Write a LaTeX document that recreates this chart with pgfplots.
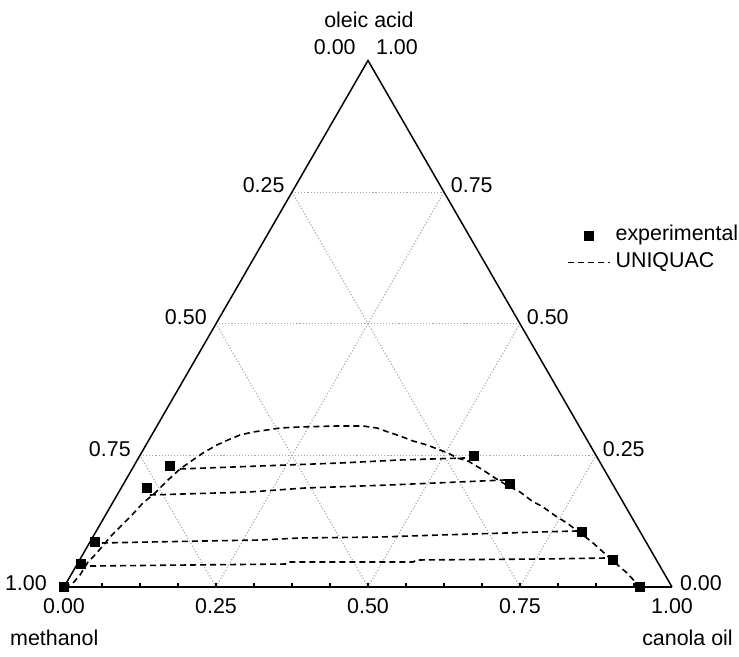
\documentclass[border=0pt]{standalone}
\usepackage{fontspec}
\setmainfont{Liberation Sans}
\usepackage{pgfplots}
\pgfplotsset{compat=1.18}
\begin{document}
\begin{tikzpicture}
\begin{axis}[
  scale only axis, width=739bp, height=657bp,
  xmin=-0.10526, xmax=1.11020, ymin=-0.11513, ymax=0.96546,
  hide axis, clip=false,
  font=\fontsize{21.5}{25}\selectfont,
  legend style={draw=none, fill=none, at={(axis cs:0.8273,0.5938)}, anchor=north west,
    inner sep=0pt, outer sep=0pt, row sep=8bp, column sep=5bp,
    nodes={inner sep=0pt, text height=15bp, text depth=4bp},
    font=\fontsize{21.5}{25}\selectfont},
  legend cell align=left,
  legend image code/.code={\draw[mark repeat=2,mark phase=2,#1] plot coordinates {(0bp,0bp) (21bp,0bp) (42bp,0bp)};},
  grid line/.style={gray!70, dotted, line width=1.1bp, forget plot},
  dashed line/.style={black, dash pattern=on 6bp off 4bp, line width=1.6bp},
]
\path (rel axis cs:0,0) rectangle (rel axis cs:1,1);
% grid lines: constant oleic acid
\addplot[grid line] coordinates {(0.125,0.2165) (0.875,0.2165)};
\addplot[grid line] coordinates {(0.25,0.4330) (0.75,0.4330)};
\addplot[grid line] coordinates {(0.375,0.6495) (0.625,0.6495)};
% constant canola oil
\addplot[grid line] coordinates {(0.25,0) (0.625,0.6495)};
\addplot[grid line] coordinates {(0.5,0) (0.75,0.4330)};
\addplot[grid line] coordinates {(0.75,0) (0.875,0.2165)};
% constant methanol
\addplot[grid line] coordinates {(0.75,0) (0.375,0.6495)};
\addplot[grid line] coordinates {(0.5,0) (0.25,0.4330)};
\addplot[grid line] coordinates {(0.25,0) (0.125,0.2165)};
% triangle
\addplot[black, line width=1.5bp, forget plot] coordinates {(0,0) (0.5,0.8660) (1,0)};
\addplot[black, line width=2.4bp, forget plot] coordinates {(0,0) (1,0)};
% bottom minor ticks
\addplot[ycomb, black, line width=1.1bp, mark=none, forget plot] coordinates {
(0.0625,0.0072) (0.125,0.0072) (0.1875,0.0072) (0.25,0.0072) (0.3125,0.0072)
(0.375,0.0072) (0.4375,0.0072) (0.5,0.0072) (0.5625,0.0072) (0.625,0.0072)
(0.6875,0.0072) (0.75,0.0072) (0.8125,0.0072) (0.875,0.0072) (0.9375,0.0072)};
% experimental
\addplot[only marks, mark=square*, mark size=4.6bp, black] coordinates {
(0,0) (0.0280,0.0378) (0.0510,0.0740) (0.1365,0.1628) (0.1743,0.1990)
(0.6743,0.2155) (0.7336,0.1694) (0.8520,0.0905) (0.9030,0.0444) (0.9474,0)};
\addlegendentry{experimental}
% UNIQUAC binodal
\addplot[dashed line] coordinates {
(0,0) (0.0148,0.0066) (0.0263,0.0197) (0.0395,0.0411) (0.0477,0.0493)
(0.0625,0.0658) (0.0757,0.0822) (0.0921,0.0987) (0.1118,0.1184) (0.1299,0.1382)
(0.1497,0.1546) (0.1711,0.1760) (0.1908,0.1941) (0.2072,0.2056) (0.2286,0.2204)
(0.2516,0.2336) (0.2697,0.2418) (0.2895,0.2500) (0.3109,0.2549) (0.3339,0.2582)
(0.3553,0.2615) (0.3882,0.2632) (0.4490,0.2648) (0.4918,0.2648) (0.5148,0.2615)
(0.5329,0.2549) (0.5526,0.2484) (0.5740,0.2401) (0.5970,0.2336) (0.6184,0.2253)
(0.6316,0.2204) (0.6464,0.2122) (0.6645,0.2072) (0.6891,0.1924) (0.7089,0.1793)
(0.7303,0.1661) (0.7500,0.1563) (0.7697,0.1414) (0.7878,0.1316) (0.8109,0.1151)
(0.8273,0.1053) (0.8487,0.0888) (0.8684,0.0740) (0.8865,0.0576) (0.9030,0.0428)
(0.9260,0.0230) (0.9474,0)};
\addlegendentry{UNIQUAC}
% tie lines
\addplot[dashed line, forget plot] coordinates {(0.1908,0.1941) (0.4539,0.2039) (0.5526,0.2089) (0.6595,0.2122)};
\addplot[dashed line, forget plot] coordinates {(0.1414,0.1513) (0.3059,0.1563) (0.3964,0.1628) (0.5362,0.1678) (0.7253,0.1760)};
\addplot[dashed line, forget plot] coordinates {(0.0625,0.0724) (0.1414,0.0740) (0.3224,0.0773) (0.3882,0.0806) (0.5197,0.0822) (0.6184,0.0855) (0.7829,0.0905) (0.8438,0.0921)};
\addplot[dashed line, forget plot] coordinates {(0.0428,0.0345) (0.3668,0.0378) (0.3717,0.0411) (0.5740,0.0411) (0.5806,0.0444) (0.7911,0.0461) (0.8931,0.0477)};
% labels
\begin{scope}[every node/.style={inner sep=0pt}]
\node at (axis cs:0.5016,0.9326) {oleic acid};
\node[anchor=east] at (axis cs:0.480,0.888) {0.00};
\node[anchor=west] at (axis cs:0.513,0.888) {1.00};
% left side (methanol)
\node[anchor=east] at (axis cs:0.363,0.6605) {0.25};
\node[anchor=east] at (axis cs:0.235,0.4440) {0.50};
\node[anchor=east] at (axis cs:0.110,0.2275) {0.75};
\node[anchor=east] at (axis cs:-0.028,0.0066) {1.00};
% right side (oleic acid)
\node[anchor=west] at (axis cs:0.636,0.6605) {0.75};
\node[anchor=west] at (axis cs:0.761,0.4440) {0.50};
\node[anchor=west] at (axis cs:0.886,0.2275) {0.25};
\node[anchor=west] at (axis cs:1.013,0.0066) {0.00};
% bottom (canola oil)
\node[anchor=north] at (axis cs:0,-0.018) {0.00};
\node[anchor=north] at (axis cs:0.25,-0.018) {0.25};
\node[anchor=north] at (axis cs:0.5,-0.018) {0.50};
\node[anchor=north] at (axis cs:0.75,-0.018) {0.75};
\node[anchor=north] at (axis cs:1,-0.018) {1.00};
\node[anchor=west] at (axis cs:-0.0888,-0.0839) {methanol};
\node[anchor=east] at (axis cs:1.1003,-0.0839) {canola oil};
\end{scope}
\end{axis}
\end{tikzpicture}
\end{document}
